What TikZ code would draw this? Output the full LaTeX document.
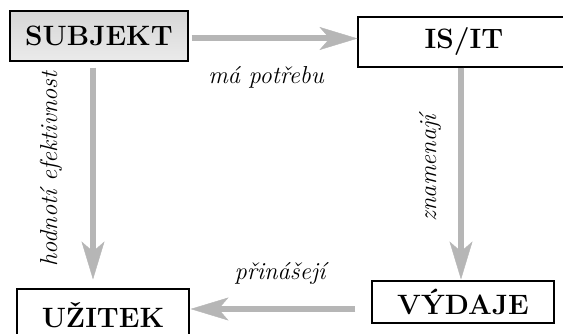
\documentclass[tikz,border=0pt]{standalone}
\usetikzlibrary{arrows.meta}
\definecolor{flowgray}{RGB}{182,182,182}
\tikzset{%
  >={Stealth[length=38pt,width=23pt,inset=10pt,line width=0.4pt]},
  % Specifications for style of nodes:
            base/.style = {rectangle, draw=black, line width=1.1pt,
                           text centered, font=\fontsize{28}{32}\selectfont\bfseries},
      subjectbox/.style = {base, minimum width=178pt, minimum height=50pt,
                           top color=gray!32, bottom color=gray!16},
         itbox/.style   = {base, minimum width=212pt, minimum height=50pt, fill=white},
       benefitbox/.style = {base, minimum width=172pt, minimum height=52pt, fill=white},
      costbox/.style    = {base, minimum width=182pt, minimum height=42pt, fill=white},
  % Specifications for style of connectors and their labels:
            flow/.style = {->, draw=flowgray, line width=6pt},
             lbl/.style = {font=\fontsize{24.5}{28}\selectfont\itshape},
}

\begin{document}
\begin{tikzpicture}[x=1pt, y=-1pt]
    \useasboundingbox (0,0) rectangle (563,334);
    \clip (0,0) rectangle (563,334);

    \node (subjekt) [subjectbox] at (99,36)   {SUBJEKT};
    \node (isit)    [itbox]      at (464,42)  {IS/IT};
    \node (uzitek)  [benefitbox] at (103,315) {UŽITEK};
    \node (vydaje)  [costbox]    at (463,302) {VÝDAJE};

    \draw[flow] ([xshift=3pt,yshift=-2.5pt]subjekt.east) -- ([yshift=3.5pt]isit.west);
    \draw[flow] ([xshift=-6pt,yshift=-6pt]subjekt.south) -- ([xshift=-10pt,yshift=9pt]uzitek.north);
    \draw[flow] ([xshift=-3pt]isit.south) -- ([xshift=-2pt,yshift=1pt]vydaje.north);
    \draw[flow] ([xshift=-16pt,yshift=-7pt]vydaje.west) -- ([xshift=1pt,yshift=6pt]uzitek.east);

    \node (needs)  [lbl]           at (266,77)  {má potřebu};
    \node (rates)  [lbl, rotate=90] at (51,169)  {hodnotí efektivnost};
    \node (means)  [lbl, rotate=90] at (430,168) {znamenají};
    \node (brings) [lbl]           at (280,273) {přinášejí};

\end{tikzpicture}
\end{document}
